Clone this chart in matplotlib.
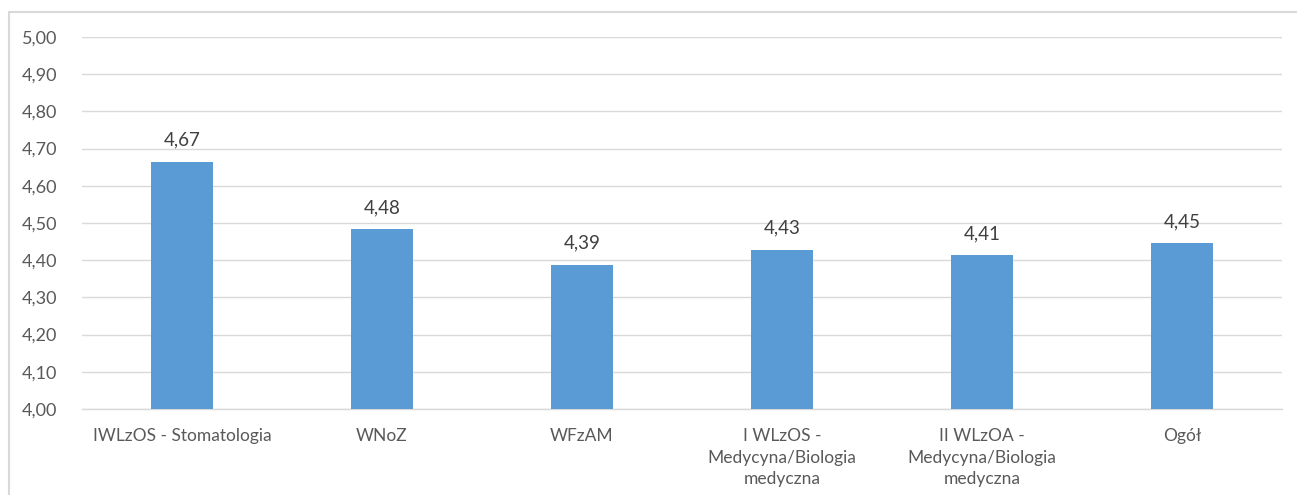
import matplotlib
matplotlib.use("Agg")
import matplotlib.pyplot as plt
from matplotlib.patches import Rectangle

categories = ["IWLzOS - Stomatologia", "WNoZ", "WFzAM",
              "I WLzOS -\nMedycyna/Biologia\nmedyczna",
              "II WLzOA -\nMedycyna/Biologia\nmedyczna", "Ogół"]
values = [4.665, 4.484, 4.388, 4.428, 4.414, 4.446]
yticks = [4.0, 4.1, 4.2, 4.3, 4.4, 4.5, 4.6, 4.7, 4.8, 4.9, 5.0]

plt.rcParams['font.family'] = ['Lato', 'DejaVu Sans']
W, H = 1297, 495
fig = plt.figure(figsize=(W / 100, H / 100), dpi=100)
fig.patches.append(Rectangle((9 / W, -0.1), 1.2, 1 - 12 / H + 0.1, transform=fig.transFigure,
                             fill=False, edgecolor='#d9d9d9', linewidth=1.5, zorder=0))
ax = fig.add_axes([82 / W, 1 - 409 / H, (1282 - 82) / W, (409 - 37) / H])
x = list(range(len(categories)))
ax.bar(x, [v - 4.0 for v in values], bottom=4.0, width=0.31, color='#5B9BD5', zorder=3)
for xi, v in zip(x, values):
    ax.text(xi, v + 0.035, f"{v:.2f}".replace('.', ','), ha='center', va='bottom',
            fontsize=13.5, color='#404040')
ax.set_ylim(4.0, 5.0)
ax.set_xlim(-0.5, len(categories) - 0.5)
ax.set_yticks(yticks)
ax.set_yticklabels([f"{t:.2f}".replace('.', ',') for t in yticks], fontsize=13, color='#595959')
ax.set_xticks(x)
ax.set_xticklabels(categories, fontsize=12.5, color='#595959', linespacing=1.4)
ax.tick_params(axis='x', length=0, pad=14)
ax.tick_params(axis='y', length=0, pad=18)
ax.grid(axis='y', color='#d9d9d9', linewidth=1, zorder=0)
for s in ['top', 'right', 'left']:
    ax.spines[s].set_visible(False)
ax.spines['bottom'].set_color('#d9d9d9')
ax.spines['bottom'].set_linewidth(1)
fig.savefig('out.png', dpi=100)
